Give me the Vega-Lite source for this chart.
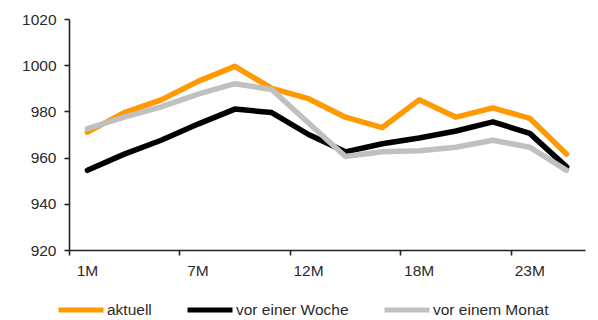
{
  "$schema": "https://vega.github.io/schema/vega-lite/v6.json",
  "width": 516,
  "height": 231,
  "autosize": {"type": "none"},
  "padding": {"left": 69, "top": 19, "right": 13, "bottom": 70},
  "background": "white",
  "config": {
    "view": {"stroke": null},
    "font": "Liberation Sans",
    "axis": {
      "domainColor": "#222222",
      "domainWidth": 1.6,
      "tickColor": "#222222",
      "tickWidth": 1.6,
      "tickSize": 5,
      "labelColor": "#2a2a2a",
      "labelFont": "Liberation Sans",
      "labelFontSize": 15.5,
      "grid": false,
      "title": null
    },
    "legend": {
      "labelFont": "Liberation Sans",
      "labelFontSize": 15.5,
      "labelColor": "#2a2a2a"
    }
  },
  "data": {
    "values": [
      {"laufzeit": "1M", "serie": "aktuell", "wert": 971},
      {"laufzeit": "3M", "serie": "aktuell", "wert": 979.5},
      {"laufzeit": "5M", "serie": "aktuell", "wert": 985},
      {"laufzeit": "7M", "serie": "aktuell", "wert": 993},
      {"laufzeit": "9M", "serie": "aktuell", "wert": 999.5},
      {"laufzeit": "10M", "serie": "aktuell", "wert": 990},
      {"laufzeit": "12M", "serie": "aktuell", "wert": 985.5},
      {"laufzeit": "14M", "serie": "aktuell", "wert": 977.5},
      {"laufzeit": "16M", "serie": "aktuell", "wert": 973},
      {"laufzeit": "18M", "serie": "aktuell", "wert": 985},
      {"laufzeit": "20M", "serie": "aktuell", "wert": 977.5},
      {"laufzeit": "21M", "serie": "aktuell", "wert": 981.5},
      {"laufzeit": "23M", "serie": "aktuell", "wert": 977},
      {"laufzeit": "25M", "serie": "aktuell", "wert": 961.5},
      {"laufzeit": "1M", "serie": "vor einer Woche", "wert": 954.5},
      {"laufzeit": "3M", "serie": "vor einer Woche", "wert": 961.5},
      {"laufzeit": "5M", "serie": "vor einer Woche", "wert": 967.5},
      {"laufzeit": "7M", "serie": "vor einer Woche", "wert": 974.5},
      {"laufzeit": "9M", "serie": "vor einer Woche", "wert": 981},
      {"laufzeit": "10M", "serie": "vor einer Woche", "wert": 979.5},
      {"laufzeit": "12M", "serie": "vor einer Woche", "wert": 970},
      {"laufzeit": "14M", "serie": "vor einer Woche", "wert": 962.5},
      {"laufzeit": "16M", "serie": "vor einer Woche", "wert": 966},
      {"laufzeit": "18M", "serie": "vor einer Woche", "wert": 968.5},
      {"laufzeit": "20M", "serie": "vor einer Woche", "wert": 971.5},
      {"laufzeit": "21M", "serie": "vor einer Woche", "wert": 975.5},
      {"laufzeit": "23M", "serie": "vor einer Woche", "wert": 970.5},
      {"laufzeit": "25M", "serie": "vor einer Woche", "wert": 956},
      {"laufzeit": "1M", "serie": "vor einem Monat", "wert": 972.5},
      {"laufzeit": "3M", "serie": "vor einem Monat", "wert": 977.5},
      {"laufzeit": "5M", "serie": "vor einem Monat", "wert": 982},
      {"laufzeit": "7M", "serie": "vor einem Monat", "wert": 987.5},
      {"laufzeit": "9M", "serie": "vor einem Monat", "wert": 992},
      {"laufzeit": "10M", "serie": "vor einem Monat", "wert": 989.5},
      {"laufzeit": "12M", "serie": "vor einem Monat", "wert": 975},
      {"laufzeit": "14M", "serie": "vor einem Monat", "wert": 960.5},
      {"laufzeit": "16M", "serie": "vor einem Monat", "wert": 962.5},
      {"laufzeit": "18M", "serie": "vor einem Monat", "wert": 963},
      {"laufzeit": "20M", "serie": "vor einem Monat", "wert": 964.5},
      {"laufzeit": "21M", "serie": "vor einem Monat", "wert": 967.5},
      {"laufzeit": "23M", "serie": "vor einem Monat", "wert": 964.5},
      {"laufzeit": "25M", "serie": "vor einem Monat", "wert": 954.5}
    ]
  },
  "mark": {"type": "line", "strokeWidth": 5.5, "strokeJoin": "round", "strokeCap": "round"},
  "encoding": {
    "x": {
      "field": "laufzeit",
      "type": "ordinal",
      "sort": ["1M", "3M", "5M", "7M", "9M", "10M", "12M", "14M", "16M", "18M", "20M", "21M", "23M", "25M"],
      "scale": {"type": "band", "paddingInner": 0, "paddingOuter": 0},
      "axis": {
        "values": ["1M", "7M", "12M", "18M", "23M"],
        "bandPosition": 0,
        "labelDx": 19,
        "labelAngle": 0,
        "labelPadding": 8
      }
    },
    "y": {
      "field": "wert",
      "type": "quantitative",
      "scale": {"domain": [920, 1020], "nice": false, "zero": false},
      "axis": {"values": [920, 940, 960, 980, 1000, 1020], "format": "d", "labelPadding": 8}
    },
    "color": {
      "field": "serie",
      "type": "nominal",
      "scale": {
        "domain": ["aktuell", "vor einer Woche", "vor einem Monat"],
        "range": ["#FF9900", "#000000", "#C0C0C0"]
      },
      "legend": {
        "title": null,
        "orient": "none",
        "direction": "horizontal",
        "legendX": -13,
        "legendY": 266,
        "symbolType": "stroke",
        "symbolSize": 2025,
        "symbolStrokeWidth": 5,
        "labelOffset": 1,
        "columnPadding": 25
      }
    }
  }
}
